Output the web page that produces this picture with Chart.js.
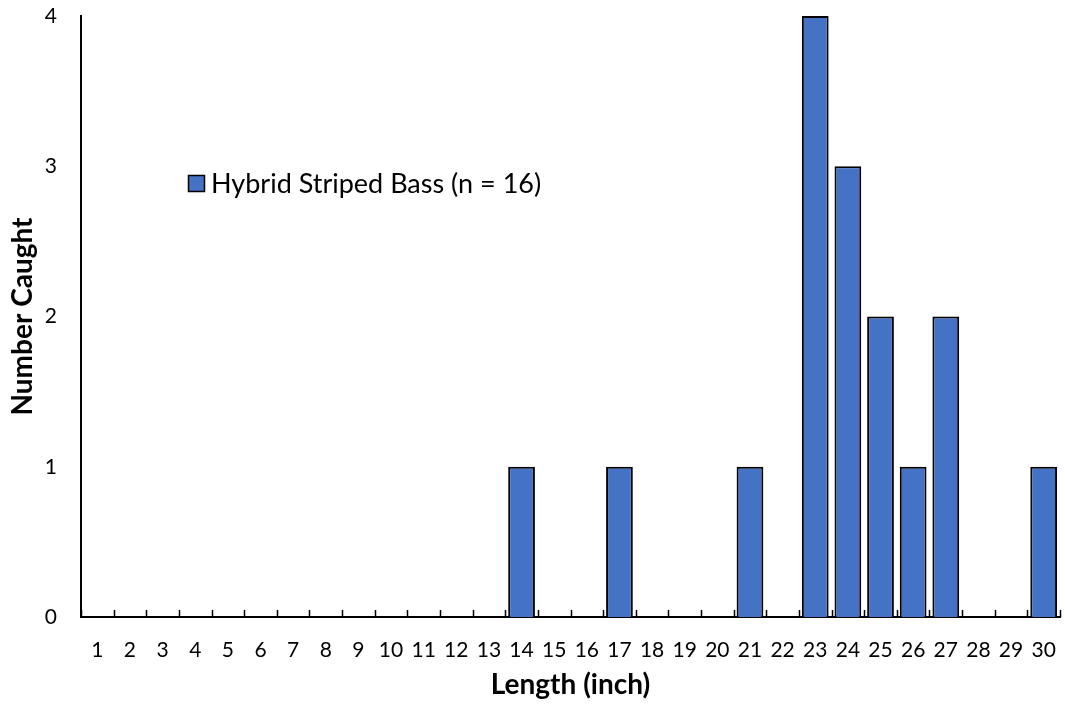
<!DOCTYPE html>
<html>
<head>
<meta charset="utf-8">
<script src="https://cdn.jsdelivr.net/npm/chart.js@4/dist/chart.umd.min.js"></script>
<style>
  html, body { margin: 0; padding: 0; background: #fff; }
  #wrap { width: 1065px; height: 704px; }
</style>
</head>
<body>
<div id="wrap"><canvas id="len-hist" width="1065" height="704"></canvas></div>
<script>
const lengths = ["1","2","3","4","5","6","7","8","9","10","11","12","13","14","15",
  "16","17","18","19","20","21","22","23","24","25","26","27","28","29","30"];
const caught = [0,0,0,0,0,0,0,0,0,0,0,0,0,1,0,0,1,0,0,0,1,0,4,3,2,1,2,0,0,1];
const yTicks = [0, 1, 2, 3, 4];
const seriesName = "Hybrid Striped Bass (n = 16)";

const FONT = "Lato, 'Open Sans', sans-serif";
const BLUE = "#4472C4";

// short upward tick marks between categories on the x axis
const innerTicks = {
  id: "innerTicks",
  afterDatasetsDraw(chart) {
    const x = chart.scales.x;
    const ctx = chart.ctx;
    const step = (x.right - x.left) / lengths.length;
    ctx.save();
    ctx.strokeStyle = "#000";
    ctx.lineWidth = 1.5;
    ctx.beginPath();
    for (let k = 0; k <= lengths.length; k++) {
      const px = Math.round(x.left + k * step) + 0.5;
      ctx.moveTo(px, x.top);
      ctx.lineTo(px, x.top - 7);
    }
    ctx.stroke();
    ctx.restore();
  },
};

// legend drawn inside the plot area
const insideLegend = {
  id: "insideLegend",
  afterDraw(chart) {
    const ctx = chart.ctx;
    const ds = chart.data.datasets[0];
    const bx = 188, by = 175, s = 17;
    ctx.save();
    ctx.fillStyle = ds.backgroundColor;
    ctx.fillRect(bx, by, s, s);
    ctx.strokeStyle = "#000";
    ctx.lineWidth = 1.5;
    ctx.strokeRect(bx + 0.5, by + 0.5, s - 1, s - 1);
    ctx.fillStyle = "#000";
    ctx.font = "27px " + FONT;
    ctx.textBaseline = "middle";
    ctx.fillText(ds.label, bx + s + 6, by + s / 2 + 1);
    ctx.restore();
  },
};

new Chart(document.getElementById("len-hist"), {
  type: "bar",
  data: {
    labels: lengths,
    datasets: [{
      label: seriesName,
      data: caught,
      backgroundColor: BLUE,
      borderColor: "#000",
      borderWidth: 2,
      barPercentage: 0.82,
      categoryPercentage: 1.0,
    }],
  },
  options: {
    responsive: false,
    animation: false,
    layout: { padding: { top: 16, right: 5, left: 0, bottom: 0 } },
    plugins: {
      legend: { display: false },
      tooltip: { enabled: false },
    },
    scales: {
      x: {
        grid: { display: false, drawTicks: false },
        border: { display: true, color: "#000", width: 2 },
        ticks: { color: "#000", font: { family: FONT, size: 21 }, padding: 21, maxRotation: 0, autoSkip: false },
        title: { display: true, text: "Length (inch)", color: "#000",
          font: { family: FONT, size: 28, weight: "bold" }, padding: { top: 0, bottom: 2 } },
        afterFit: (s) => { s.height = 87; s.paddingLeft = 0; s.paddingRight = 0; },
      },
      y: {
        min: 0,
        max: 4,
        afterBuildTicks: (s) => { s.ticks = yTicks.map((v) => ({ value: v })); },
        grid: { display: false, drawTicks: false },
        border: { display: true, color: "#000", width: 2 },
        ticks: { color: "#000", font: { family: FONT, size: 21 }, padding: 24 },
        title: { display: true, text: "Number Caught", color: "#000",
          font: { family: FONT, size: 28, weight: "bold" }, padding: { top: 6, bottom: 0 } },
        afterFit: (s) => { s.width = 81; s.paddingTop = 0; s.paddingBottom = 0; },
      },
    },
  },
  plugins: [innerTicks, insideLegend],
});
</script>
</body>
</html>
